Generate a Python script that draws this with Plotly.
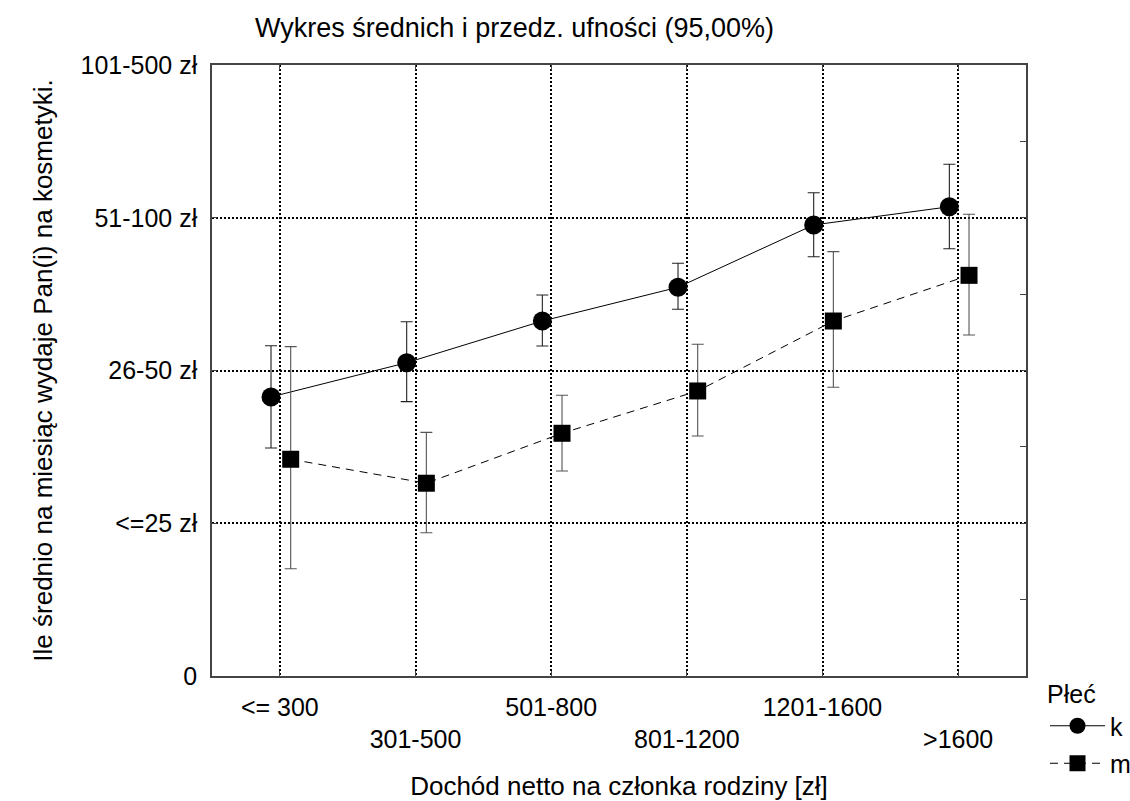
import plotly.graph_objects as go

categories = ["<= 300", "301-500", "501-800", "801-1200", "1201-1600", ">1600"]
y_tick_labels = ["0", "<=25 zł", "26-50 zł", "51-100 zł", "101-500 zł"]

k_mean = [1.827, 2.051, 2.324, 2.545, 2.953, 3.072]
k_upper = [2.162, 2.319, 2.494, 2.702, 3.164, 3.350]
k_lower = [1.493, 1.796, 2.160, 2.401, 2.745, 2.797]

m_mean = [1.419, 1.262, 1.589, 1.866, 2.324, 2.623]
m_upper = [2.156, 1.595, 1.838, 2.172, 2.778, 3.023]
m_lower = [0.702, 0.938, 1.342, 1.571, 1.890, 2.232]

FONT = "Liberation Sans, Arial, sans-serif"
FS = 25
FT = 26
K_OFF, M_OFF = -0.065, 0.08

idx = list(range(len(categories)))
fig = go.Figure()

fig.add_trace(go.Scatter(
    x=[i + K_OFF for i in idx], y=k_mean, name="k", mode="lines+markers",
    legendgroup="k",
    line=dict(color="black", width=1),
    marker=dict(symbol="circle", size=19, color="black"),
    error_y=dict(type="data", symmetric=False,
                 array=[u - m for u, m in zip(k_upper, k_mean)],
                 arrayminus=[m - l for m, l in zip(k_mean, k_lower)],
                 color="#222222", thickness=1.1, width=6),
))
fig.add_trace(go.Scatter(
    x=[i + M_OFF for i in idx], y=m_mean, name="m", mode="lines+markers",
    legendgroup="m",
    line=dict(color="black", width=1, dash="8px,6px"),
    marker=dict(symbol="square", size=17, color="black"),
    error_y=dict(type="data", symmetric=False,
                 array=[u - m for u, m in zip(m_upper, m_mean)],
                 arrayminus=[m - l for m, l in zip(m_mean, m_lower)],
                 color="#555555", thickness=1.1, width=6),
))
# invisible trace to activate right-side minor tick axis
fig.add_trace(go.Scatter(x=[0], y=[0], yaxis="y2", mode="markers",
                         marker=dict(opacity=0), showlegend=False, hoverinfo="skip"))

fig.update_layout(
    width=1130, height=801,
    margin=dict(l=212, r=104, t=65, b=125, autoexpand=False),
    paper_bgcolor="white", plot_bgcolor="white",
    font=dict(family=FONT, size=FS, color="black"),
    showlegend=True,
    legend=dict(title=dict(text="Płeć", font=dict(size=FS)),
                x=(1045 - 212) / 814, xanchor="left", y=0.009, yanchor="top",
                font=dict(size=FS), bgcolor="rgba(0,0,0,0)",
                tracegroupgap=2, itemsizing="trace", itemwidth=55),
    xaxis=dict(range=[-0.5, 5.5], tickmode="array", tickvals=idx,
               ticktext=[c if i % 2 == 0 else "<br>" + c for i, c in enumerate(categories)],
               tickfont=dict(size=FS),
               showgrid=True, gridcolor="black", gridwidth=2, griddash="2px,2px",
               zeroline=False, showline=True, linecolor="#444444", linewidth=1.5,
               mirror="ticks", ticks="inside", ticklen=5, tickcolor="#444444",
               ticklabelstandoff=8,
               title=dict(text="Dochód netto na członka rodziny [zł]", standoff=25,
                          font=dict(size=FT))),
    yaxis=dict(range=[0, 4], tickmode="array", tickvals=[0, 1, 2, 3, 4],
               ticktext=y_tick_labels, tickfont=dict(size=FS),
               showgrid=True, gridcolor="black", gridwidth=2, griddash="2px,2px",
               zeroline=False, showline=True, linecolor="#444444", linewidth=1.5,
               mirror="ticks", ticks="inside", ticklen=5, tickcolor="#444444",
               ticklabelstandoff=8,
               title=dict(text="Ile średnio na miesiąc wydaje Pan(i) na kosmetyki.",
                          standoff=20, font=dict(size=FT))),
    yaxis2=dict(range=[0, 4], overlaying="y", side="right", tickmode="array",
                tickvals=[0.5, 1.5, 2.5, 3.5], showticklabels=False,
                ticks="inside", ticklen=6, tickcolor="#444444",
                showgrid=False, zeroline=False, showline=False),
    annotations=[dict(text="Wykres średnich i przedz. ufności (95,00%)",
                      xref="paper", yref="paper", x=(514 - 212) / 814, y=1.0,
                      yshift=37, xanchor="center", yanchor="middle",
                      showarrow=False, font=dict(size=27))],
)

fig.write_html("out.html")
